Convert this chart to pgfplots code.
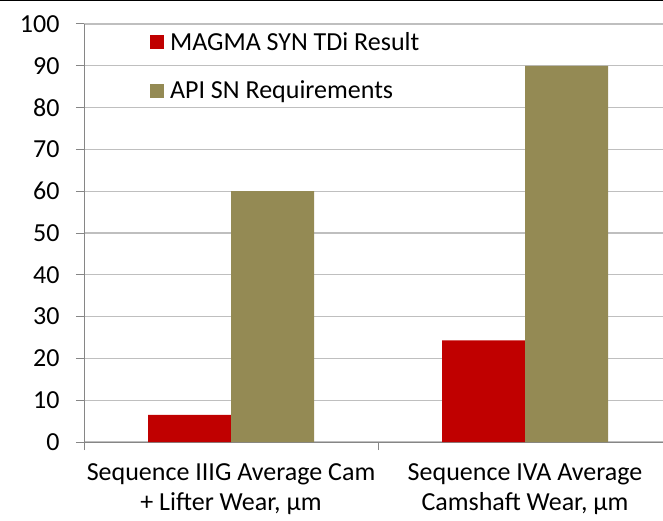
\documentclass[border=0pt]{standalone}
\usepackage{pgfplots}
\pgfplotsset{compat=1.18}
\usepackage{fontspec}
\setmainfont{Carlito}
\definecolor{magred}{HTML}{C00000}
\definecolor{apiolive}{HTML}{948A54}
\definecolor{axgray}{HTML}{868686}
\definecolor{gridgray}{HTML}{BFBFBF}
\begin{document}
\begin{tikzpicture}[x=1pt,y=1pt]
\useasboundingbox (0,0) rectangle (663,520);
\begin{scope}
\clip (0,0) rectangle (663,520);
\begin{axis}[
  at={(84pt,78pt)}, anchor=south west,
  scale only axis, width=588pt, height=418pt,
  xmin=0, xmax=2, ymin=0, ymax=100,
  axis x line*=bottom, axis y line*=left,
  axis line style={axgray, line width=1pt, -},
  ybar=0pt, bar width=83pt,
  ytick={0,10,...,100},
  ymajorgrids, grid style={gridgray, line width=1.3pt},
  tick align=outside, major tick length=8pt,
  tick style={axgray, line width=1pt},
  xtick={0,1,2}, xticklabels={},
  extra x ticks={0.5,1.5},
  extra x tick labels={{Sequence IIIG Average Cam\\+ Lifter Wear, µm}, {Sequence IVA Average\\Camshaft Wear, µm}},
  extra x tick style={major tick length=0pt, grid=none, tick label style={align=center, yshift=-18pt}},
  font=\fontsize{26}{30}\selectfont,
  ticklabel style={font=\fontsize{26}{30}\selectfont},
  /pgf/number format/assume math mode=true,
  yticklabel style={xshift=-13pt},
  legend style={draw=none, fill=none, at={(0.112,0.985)}, anchor=north west,
    font=\fontsize{26}{30}\selectfont, row sep=25pt, inner sep=0pt,
    /tikz/every odd column/.append style={column sep=4pt}},
  legend cell align=left,
  legend image code/.code={\fill[#1] (0pt,-7pt) rectangle (14pt,7pt);},
]
\addplot[fill=magred, draw=none] coordinates {(0.5,6.5) (1.5,24.3)};
\addplot[fill=apiolive, draw=none] coordinates {(0.5,60) (1.5,90)};
\legend{MAGMA SYN TDi Result, API SN Requirements}
\end{axis}
\draw[black, line width=3pt] (0,520) -- (663,520);
\end{scope}
\end{tikzpicture}
\end{document}
